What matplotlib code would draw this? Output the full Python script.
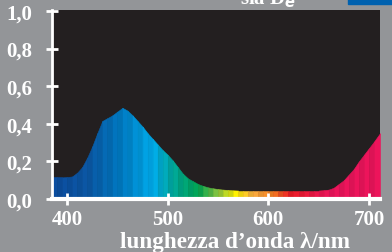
import numpy as np
import matplotlib.pyplot as plt
from matplotlib.colors import LinearSegmentedColormap, to_rgb
from matplotlib.patches import Rectangle

# spectrum (relative value)
wavelength = [385, 390, 395, 400, 405, 410, 415, 420, 425, 430, 435, 440, 445, 450,
              455, 460, 465, 470, 475, 480, 485, 490, 495, 500, 505, 510, 515, 520,
              525, 530, 535, 540, 545, 550, 555, 560, 565, 570, 575, 580, 585, 590,
              595, 600, 605, 610, 615, 620, 625, 630, 635, 640, 645, 650, 655, 660,
              665, 670, 675, 680, 685, 690, 695, 700, 705, 711]
intensity = [0.115, 0.115, 0.115, 0.117, 0.12, 0.14, 0.17, 0.22, 0.28, 0.35, 0.415, 0.43,
             0.445, 0.465, 0.485, 0.47, 0.445, 0.415, 0.385, 0.35, 0.32, 0.29, 0.26, 0.235,
             0.205, 0.17, 0.135, 0.11, 0.095, 0.08, 0.07, 0.062, 0.057, 0.053, 0.05, 0.048,
             0.046, 0.045, 0.045, 0.045, 0.045, 0.045, 0.045, 0.045, 0.045, 0.045, 0.045,
             0.045, 0.045, 0.045, 0.045, 0.045, 0.045, 0.045, 0.047, 0.05, 0.06, 0.08,
             0.1, 0.13, 0.16, 0.2, 0.235, 0.27, 0.305, 0.35]

x_ticks = [400, 500, 600, 700]
y_ticks = [0.0, 0.2, 0.4, 0.6, 0.8, 1.0]
y_labels = ["0,0", "0,2", "0,4", "0,6", "0,8", "1,0"]

bg = "#939598"
dark = "#231f20"

# colour of the visible spectrum
spec_nodes = [(385, "#0b4d9f"), (420, "#0b57a5"), (450, "#0077c0"), (485, "#00aeef"),
              (505, "#00a99d"), (530, "#00a651"), (550, "#8dc63f"), (568, "#fff200"),
              (585, "#fbb040"), (605, "#f47b20"), (622, "#ed1c24"), (660, "#ed145b"),
              (711, "#ed145b")]
lo, hi = spec_nodes[0][0], spec_nodes[-1][0]
cmap = LinearSegmentedColormap.from_list(
    "spec", [((w - lo) / (hi - lo), c) for w, c in spec_nodes])

plt.rcParams['font.family'] = ['Liberation Serif', 'DejaVu Serif']
plt.rcParams['font.weight'] = 'bold'

fig = plt.figure(figsize=(3.92, 2.53), dpi=100, facecolor=bg)
ax = fig.add_axes([52/392, 1 - 200/253, 328/392, 189/253])
ax.set_facecolor(dark)

for i in range(len(wavelength) - 1):
    x0, x1 = wavelength[i], wavelength[i + 1]
    c = np.array(to_rgb(cmap((0.5*(x0 + x1) - lo) / (hi - lo))))
    if i % 2:
        c = c * 0.93
    ax.fill_between([x0, x1], 0, [intensity[i], intensity[i + 1]],
                    color=c, linewidth=0.4, edgecolor=c)

ax.set_xlim(385, 711)
ax.set_ylim(0, 1.005)
ax.set_xticks(x_ticks)
ax.set_yticks(y_ticks)
ax.set_yticklabels(y_labels)

for s in ["top", "right"]:
    ax.spines[s].set_visible(False)
ax.spines["left"].set_color("white")
ax.spines["left"].set_linewidth(2)
ax.spines["bottom"].set_color("white")
ax.spines["bottom"].set_linewidth(3)
ax.spines["bottom"].set_zorder(5)

ax.tick_params(axis="both", direction="inout", length=9, width=2, color="white",
               labelcolor="white", labelsize=15)
ax.tick_params(axis="y", pad=10)
ax.tick_params(axis="x", pad=3)
for t in ax.get_xticklabels() + ax.get_yticklabels():
    t.set_fontweight("bold")

ax.set_xlabel("lunghezza d\u2019onda \u03bb/nm", color="white", fontsize=16.7,
              fontweight="bold", labelpad=1)
ax.xaxis.set_label_coords(0.558, -0.17)

# partly cut legend at the top
fig.text(240/392, 1 - 4/253, "sia D$_e$", color="white", fontsize=15,
         fontweight="bold", ha="left", va="baseline")
fig.patches.append(Rectangle((348/392, 1 - 5/253), 44/392, 5/253,
                             transform=fig.transFigure, color="#0061af"))

fig.savefig("out.png", dpi=100, facecolor=bg)
